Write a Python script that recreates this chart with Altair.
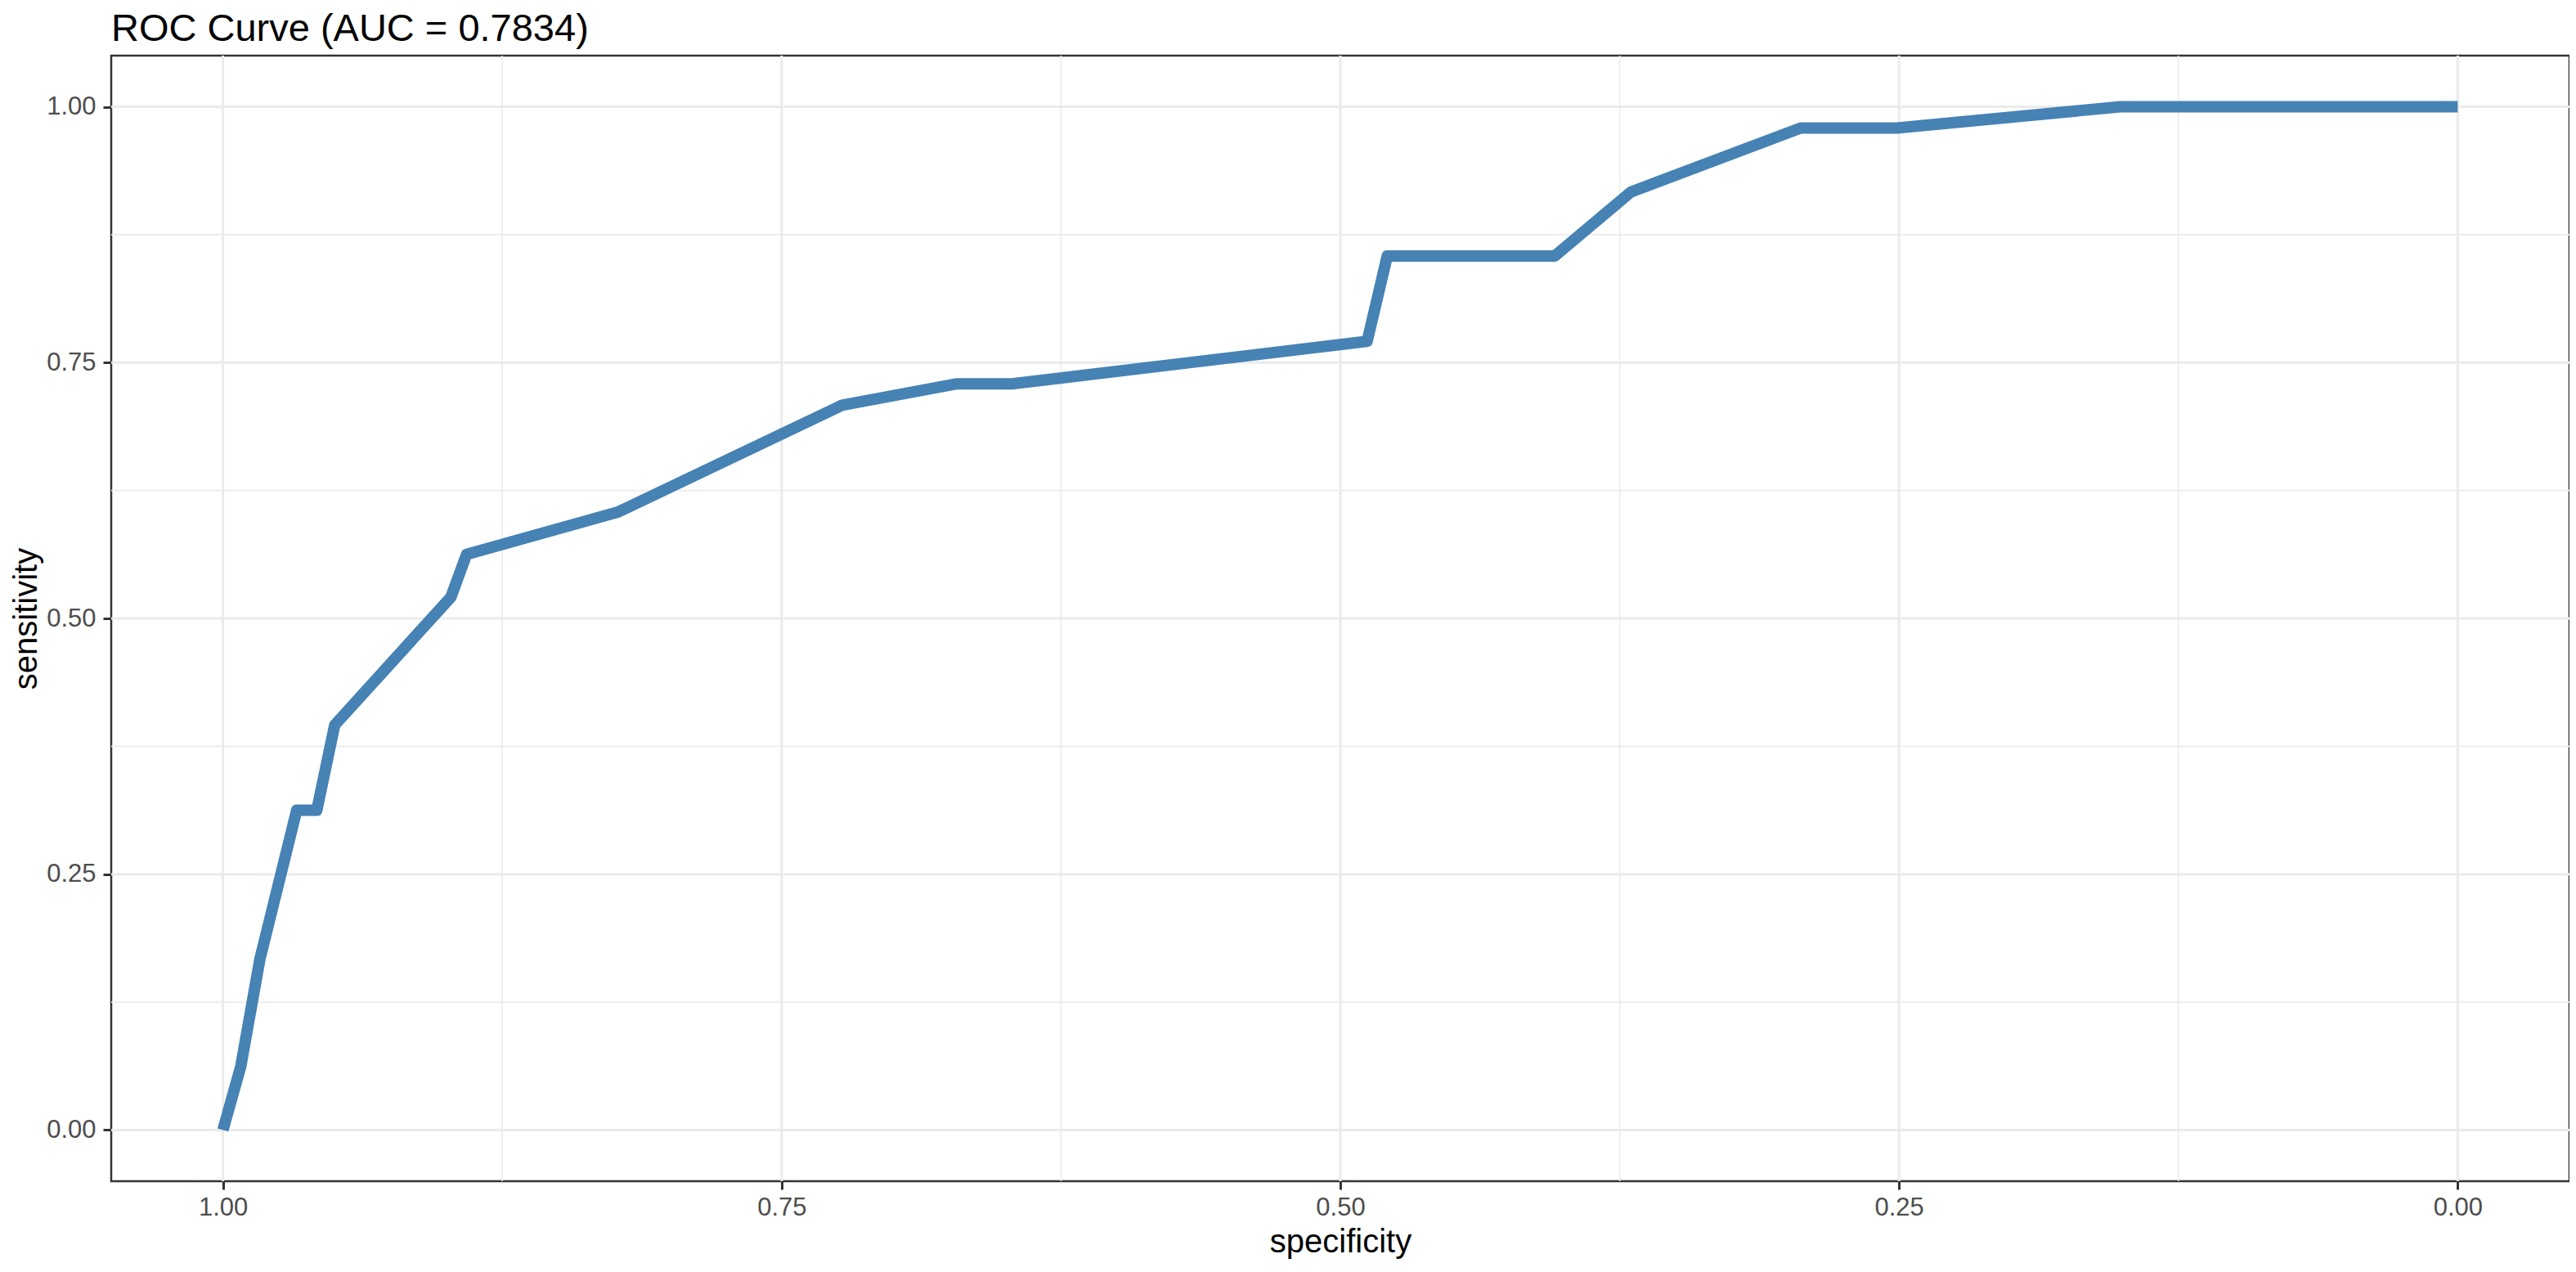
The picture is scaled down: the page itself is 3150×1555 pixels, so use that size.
import altair as alt
import pandas as pd

# ROC curve points
specificity = [1.000, 0.992, 0.9835, 0.967, 0.958, 0.950, 0.898, 0.891, 0.823,
               0.723, 0.672, 0.647, 0.488, 0.479, 0.404, 0.370, 0.294, 0.251,
               0.151, 0.000]
sensitivity = [0.0000, 0.0625, 0.1667, 0.3125, 0.3125, 0.3958, 0.5208, 0.5625,
               0.6042, 0.7083, 0.7292, 0.7292, 0.7708, 0.8542, 0.8542, 0.9167,
               0.9792, 0.9792, 1.0000, 1.0000]

major_breaks = [0.0, 0.25, 0.5, 0.75, 1.0]
minor_breaks = [0.125, 0.375, 0.625, 0.875]

FONT = "Liberation Sans"
GRID = "#EBEBEB"

roc = pd.DataFrame({
    "specificity": specificity,
    "sensitivity": sensitivity,
    "order": list(range(len(specificity))),
})
major = pd.DataFrame({"specificity": major_breaks, "sensitivity": major_breaks})
minor = pd.DataFrame({"specificity": minor_breaks, "sensitivity": minor_breaks})

xscale = alt.Scale(domain=[-0.05, 1.05], reverse=True, nice=False, zero=False)
yscale = alt.Scale(domain=[-0.05, 1.05], nice=False, zero=False)

xaxis = alt.Axis(values=major_breaks, format=".2f", title="specificity",
                 labelPadding=7, titlePadding=7, labelFlush=False)
yaxis = alt.Axis(values=major_breaks, format=".2f", title="sensitivity",
                 labelPadding=9, titlePadding=4, labelFlush=False)

X = alt.X("specificity:Q", scale=xscale, axis=xaxis)
Y = alt.Y("sensitivity:Q", scale=yscale, axis=yaxis)

minor_x = alt.Chart(minor).mark_rule(color=GRID, strokeWidth=1.6).encode(x=X)
minor_y = alt.Chart(minor).mark_rule(color=GRID, strokeWidth=1.6).encode(y=Y)
major_x = alt.Chart(major).mark_rule(color=GRID, strokeWidth=3).encode(x=X)
major_y = alt.Chart(major).mark_rule(color=GRID, strokeWidth=3).encode(y=Y)

line = alt.Chart(roc).mark_line(
    color="#4682B4", strokeWidth=14, strokeJoin="round", strokeCap="butt"
).encode(x=X, y=Y, order="order:Q")

chart = alt.layer(minor_x, minor_y, major_x, major_y, line).properties(
    width=3006,
    height=1376,
    autosize=alt.AutoSizeParams(type="none"),
    padding={"left": 128, "top": 60, "right": 0, "bottom": 102},
    title=alt.TitleParams(
        "ROC Curve (AUC = 0.7834)", anchor="start", frame="group", font=FONT,
        fontSize=47, color="black", fontWeight="normal", offset=7,
    ),
).configure_axis(
    labelFont=FONT, titleFont=FONT, labelFontSize=31, titleFontSize=40,
    labelColor="#4D4D4D", titleColor="black", titleFontWeight="normal",
    tickColor="#333333", tickWidth=3, tickSize=10, domain=False, grid=False,
).configure_view(
    stroke="#333333", strokeWidth=2.5,
)

chart.save("out.html", embed_options={"renderer": "svg", "actions": False})
